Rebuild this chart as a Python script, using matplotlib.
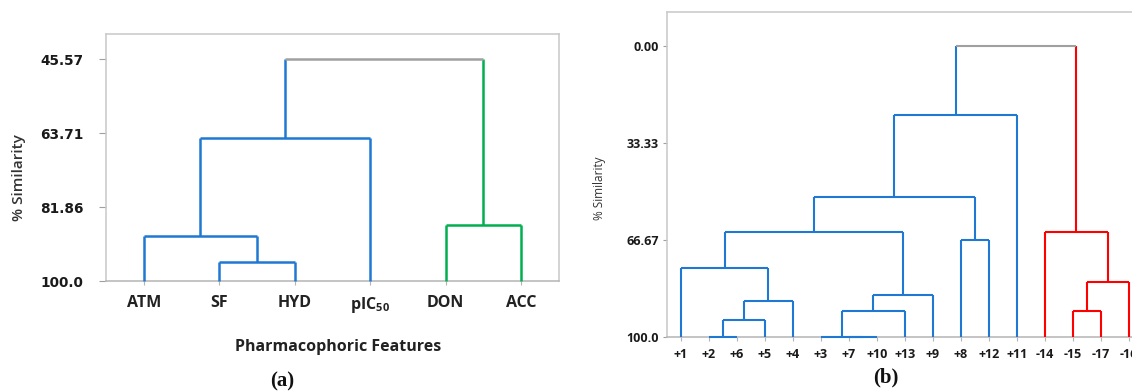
import matplotlib
matplotlib.use("Agg")
import matplotlib.pyplot as plt

plt.rcParams["font.family"] = ["Open Sans", "DejaVu Sans"]

# (a) 药效团特征聚类
labels_a = ["ATM", "SF", "HYD", "pIC$_{\\mathregular{50}}$", "DON", "ACC"]
left_a   = [1, 0, 7, 4, 8]
right_a  = [2, 6, 3, 5, 9]
height_a = [95.41, 88.95, 64.82, 86.25, 45.57]
yticks_a = [45.57, 63.71, 81.86, 100.0]
ytick_labels_a = ["45.57", "63.71", "81.86", "100.0"]

# (b) 化合物聚类
labels_b = ["+1", "+2", "+6", "+5", "+4", "+3", "+7", "+10", "+13", "+9",
            "+8", "+12", "+11", "-14", "-15", "-17", "-16"]
left_b   = [1, 17, 18, 0, 6, 5, 22, 23, 20, 10, 25, 27, 14, 29, 13, 28]
right_b  = [2, 3, 4, 19, 7, 21, 8, 9, 24, 11, 26, 12, 15, 16, 30, 31]
height_b = [100.0, 94.1, 87.6, 76.3, 100.0, 100.0, 91.0, 85.6, 64.1, 66.8,
            51.9, 23.9, 91.0, 81.1, 64.1, 0.0]
yticks_b = [0.0, 33.33, 66.67, 100.0]
ytick_labels_b = ["0.00", "33.33", "66.67", "100.0"]

BLUE  = "#1f78d1"
GREEN = "#00b050"
RED   = "#ff0000"
GRAY  = "#a0a0a0"
FRAME = "#c8c8c8"


def draw_dendro(ax, n, left, right, height, side_colors, lw):
    xs = {i: float(i) for i in range(n)}
    hs = {i: 100.0 for i in range(n)}
    col = {}

    def assign(node, c):
        col[node] = c
        if node >= n:
            assign(left[node - n], c)
            assign(right[node - n], c)

    root = n + len(height) - 1
    assign(left[-1], side_colors[0])
    assign(right[-1], side_colors[1])
    col[root] = GRAY

    for k in range(len(height)):
        a, b, h = left[k], right[k], height[k]
        node = n + k
        xs[node] = (xs[a] + xs[b]) / 2
        hs[node] = h
        kw = dict(lw=lw, solid_capstyle="butt", clip_on=False, zorder=3)
        ax.plot([xs[a], xs[a]], [hs[a], h], color=col[a], **kw)
        ax.plot([xs[b], xs[b]], [hs[b], h], color=col[b], **kw)
        ax.plot([xs[a], xs[b]], [h, h], color=col[node], **kw)


def style_frame(ax, lw):
    for s in ax.spines.values():
        s.set_color(FRAME)
        s.set_linewidth(lw)
    ax.spines["bottom"].set_color("#b4b4b4")


fig = plt.figure(figsize=(11.32, 3.91), dpi=100)

# ---- (a)
ax1 = fig.add_axes([0.0936, 0.2813, 0.4002, 0.6317])
draw_dendro(ax1, len(labels_a), left_a, right_a, height_a, [BLUE, GREEN], 1.8)
ax1.set_xlim(-0.5, 5.5)
ax1.set_ylim(100, 39.36)
style_frame(ax1, 1.1)
ax1.set_xticks(range(len(labels_a)))
ax1.set_xticklabels(labels_a, fontsize=11.5, fontweight="bold", color="#222222")
ax1.set_yticks(yticks_a)
ax1.set_yticklabels(ytick_labels_a, family="DejaVu Sans", fontsize=9.8,
                    fontweight="bold", color="#1a1a1a")
ax1.tick_params(axis="x", length=3, width=0.8, color="#b4b4b4", pad=7)
ax1.tick_params(axis="y", length=5, width=0.8, color="#a0a0a0", pad=11)
fig.text(19 / 1132, 1 - 178 / 391, "% Similarity", rotation=90, ha="center",
         va="center", fontsize=11, fontweight="semibold", color="#333333")
fig.text(338 / 1132, 1 - 347 / 391, "Pharmacophoric Features", ha="center",
         va="center", fontsize=11.5, fontweight="bold", color="#222222")
fig.text(282 / 1132, 1 - 381 / 391, "(a)", ha="center", va="center",
         family="Liberation Serif", fontsize=15, fontweight="bold", color="#111111")

# ---- (b)
ax2 = fig.add_axes([0.5892, 0.1389, 0.4205, 0.8304])
draw_dendro(ax2, len(labels_b), left_b, right_b, height_b, [BLUE, RED], 1.5)
ax2.set_xlim(-0.5, 16.5)
ax2.set_ylim(100, -11.6)
style_frame(ax2, 1.1)
ax2.set_xticks(range(len(labels_b)))
ax2.set_xticklabels(labels_b, fontsize=9, fontweight="bold", color="#1a1a1a")
ax2.set_yticks(yticks_b)
ax2.set_yticklabels(ytick_labels_b, fontsize=9, fontweight="bold", color="#1a1a1a")
ax2.tick_params(axis="x", length=3, width=0.8, color="#b4b4b4", pad=5)
ax2.tick_params(axis="y", length=3, width=0.8, color="#a0a0a0", pad=3)
fig.text(600 / 1132, 1 - 188 / 391, "% Similarity", rotation=90, ha="center",
         va="center", fontsize=8.5, color="#333333")
fig.text(886 / 1132, 1 - 377 / 391, "(b)", ha="center", va="center",
         family="Liberation Serif", fontsize=15, fontweight="bold", color="#111111")

fig.savefig("out.png", dpi=100)
